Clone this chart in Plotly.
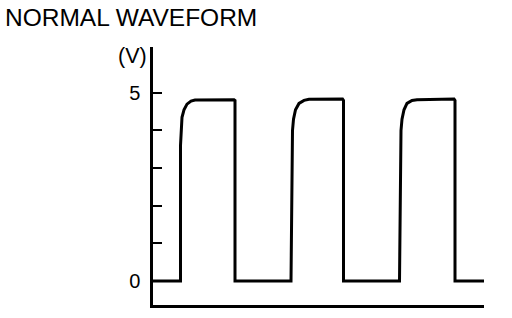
import plotly.graph_objects as go

# Waveform (time in arbitrary units, voltage in V)
time_pts = [0.0,
            2.75, 2.75, 2.8, 2.9, 3.1, 3.4, 3.8, 4.2, 8.1, 8.2, 8.2,
            13.8, 13.95, 14.05, 14.25, 14.6, 15.1, 15.6, 18.95, 19.05, 19.05,
            24.65, 24.8, 24.9, 25.1, 25.4, 25.9, 26.4, 30.1, 30.2, 30.2,
            33.1]
volt_pts = [0.0,
            0.0, 3.6, 4.1, 4.35, 4.55, 4.7, 4.78, 4.81, 4.82, 4.8, 0.0,
            0.0, 4.0, 4.3, 4.55, 4.72, 4.8, 4.83, 4.84, 4.8, 0.0,
            0.0, 4.0, 4.3, 4.55, 4.72, 4.8, 4.82, 4.84, 4.8, 0.0,
            0.0]

y_tickvals = [0, 1, 2, 3, 4, 5]
y_ticktext = ["0", "", "", "", "", "5"]
title_text = "NORMAL WAVEFORM"
unit_text = "(V)"

FONT = "Liberation Sans, Arial, sans-serif"

fig = go.Figure()
fig.add_trace(go.Scatter(x=time_pts, y=volt_pts, mode="lines",
                         line=dict(color="black", width=3),
                         hoverinfo="skip", showlegend=False))

fig.update_layout(
    width=512, height=318,
    margin=dict(l=153, r=28, t=47, b=13),
    paper_bgcolor="white", plot_bgcolor="white",
    showlegend=False,
    font=dict(family=FONT, color="black"),
    xaxis=dict(range=[0, 33.1], showline=True, linecolor="black", linewidth=3,
               showgrid=False, zeroline=False, showticklabels=False, ticks=""),
    yaxis=dict(range=[-0.64, 6.22], showline=True, linecolor="black", linewidth=2.5,
               showgrid=False, zeroline=False,
               tickvals=y_tickvals, ticktext=y_ticktext,
               ticks="inside", ticklen=9, tickwidth=2, tickcolor="black",
               ticklabelstandoff=6,
               tickfont=dict(family=FONT, size=20, color="black")),
    annotations=[
        dict(text=title_text, xref="paper", yref="paper",
             x=-153/331 + 3/331, y=1 + (47-17)/258, xanchor="left", yanchor="middle",
             showarrow=False, font=dict(family=FONT, size=24.5, color="black")),
        dict(text=unit_text, xref="paper", yref="paper",
             x=-(153-132)/331, y=1 - (56-47)/258, xanchor="center", yanchor="middle",
             showarrow=False, font=dict(family=FONT, size=21.5, color="black")),
    ],
)

fig.write_html("out.html")
